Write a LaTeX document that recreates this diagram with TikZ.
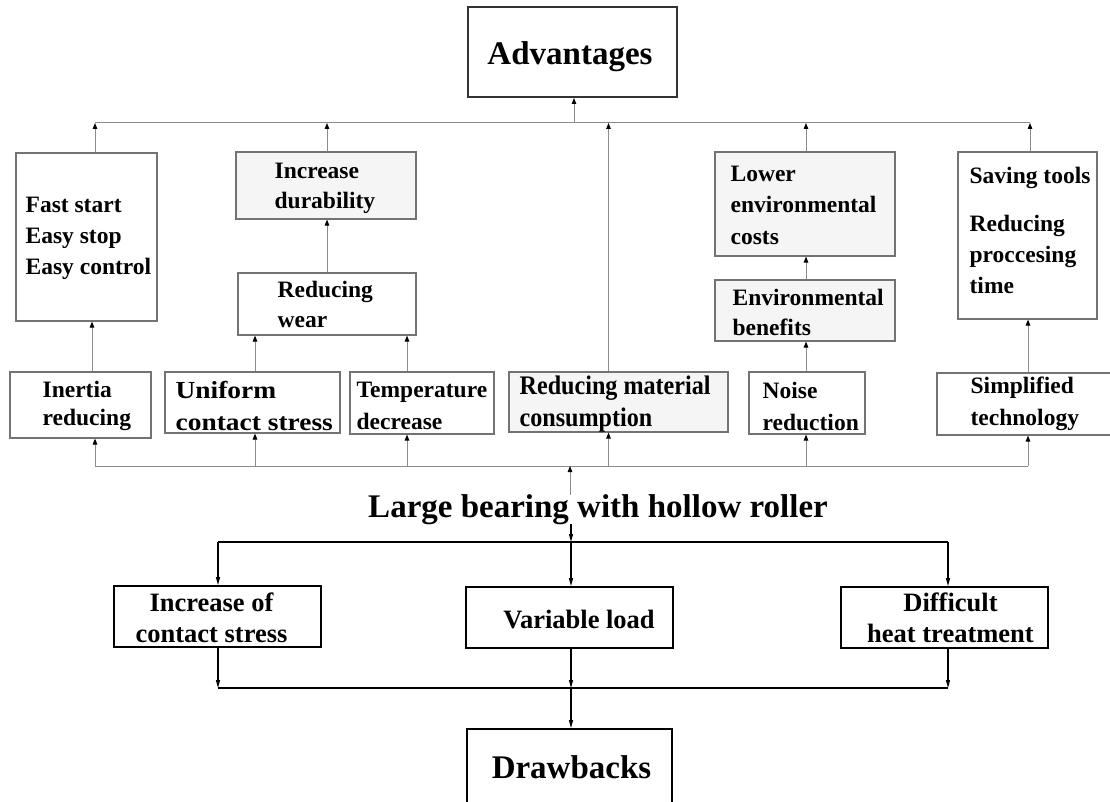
\documentclass[tikz,border=0pt]{standalone}
\usepackage{fontspec}
\setmainfont{Liberation Serif}
\newfontfamily\widefont[FakeStretch=1.12]{Liberation Serif}
\newfontfamily\narrowfont[FakeStretch=0.9]{Liberation Serif}
\usetikzlibrary{arrows.meta,calc}
\tikzset{
  tbox/.style={draw=black!55, line width=1.1pt, rectangle, inner sep=0pt},
  tboxf/.style={tbox, fill=black!4},
  bbox/.style={draw=black, line width=1.8pt, rectangle, inner sep=0pt},
  lab/.style={inner sep=0pt, align=left, anchor=west, font=\bfseries\fontsize{23.5}{31}\selectfont},
  blab/.style={inner sep=0pt, align=center, font=\bfseries\fontsize{26.5}{31}\selectfont},
  gline/.style={draw=black!45, line width=1pt},
  garr/.style={gline, -{Triangle[length=6pt,width=4.5pt,color=black]}},
  bline/.style={draw=black, line width=1.2pt},
  barr/.style={bline, -{Triangle[length=8pt,width=4pt]}},
}
\begin{document}
\begin{tikzpicture}[x=1pt,y=-1pt]
\useasboundingbox (0,0) rectangle (1110,802);
\fill[white] (0,0) rectangle (1110,802);

% ---------- top part ----------
\node[tbox, draw=black!80, line width=2pt, minimum width=209, minimum height=90] (adv) at (572.5,52) {};
\node[inner sep=0pt, anchor=base, font=\bfseries\fontsize{33}{36}\selectfont] (advT) at (570,65) {Advantages};

\node[tbox, minimum width=141, minimum height=168] (fast) at (86.5,237) {};
\node[lab, font=\bfseries\fontsize{23.5}{31}\selectfont] (fastT) at ([shift={(10,1)}]fast.west) {Fast start\\Easy stop\\Easy control};

\node[tboxf, minimum width=180, minimum height=67] (incdur) at (326,185.5) {};
\node[lab, font=\bfseries\fontsize{23.5}{30}\selectfont] (incdurT) at ([shift={(39,2.5)}]incdur.west) {Increase\\durability};

\node[tbox, minimum width=178, minimum height=62] (redwear) at (327,304) {};
\node[lab, font=\bfseries\fontsize{23.5}{30}\selectfont] (redwearT) at ([shift={(40,0)}]redwear.west) {Reducing\\wear};

\node[tboxf, minimum width=180, minimum height=104] (lowenv) at (805,204) {};
\node[lab, font=\bfseries\fontsize{23.5}{31.5}\selectfont] (lowenvT) at ([shift={(16,1)}]lowenv.west) {Lower\\environmental\\costs};

\node[tboxf, minimum width=180, minimum height=61] (envben) at (805,310.5) {};
\node[lab, font=\bfseries\fontsize{23.5}{30}\selectfont] (envbenT) at ([shift={(18,2)}]envben.west) {Environmental\\benefits};

\node[tbox, minimum width=139, minimum height=167] (saving) at (1027.5,235.5) {};
\node[lab, font=\bfseries\fontsize{23.5}{31}\selectfont] (savingT) at ([shift={(12,-5)}]saving.west) {Saving tools\\[17pt]Reducing\\proccesing\\time};

\node[tbox, minimum width=141, minimum height=66] (inertia) at (80.5,405) {};
\node[lab, font=\bfseries\fontsize{23.5}{28}\selectfont] (inertiaT) at ([shift={(33,1)}]inertia.west) {Inertia\\reducing};

\node[tbox, minimum width=175, minimum height=61] (uniform) at (252.5,402.5) {};
\node[lab, font=\widefont\bfseries\fontsize{24.5}{32}\selectfont] (uniformT) at ([shift={(11,3)}]uniform.west) {Uniform\\contact stress};

\node[tbox, minimum width=144, minimum height=62] (temp) at (422,403) {};
\node[lab, font=\bfseries\fontsize{23.5}{32}\selectfont] (tempT) at ([shift={(7,3)}]temp.west) {Temperature\\decrease};

\node[tboxf, minimum width=219, minimum height=60] (redmat) at (618.5,402) {};
\node[lab, font=\narrowfont\bfseries\fontsize{26.8}{32}\selectfont] (redmatT) at ([shift={(11,2)}]redmat.west) {Reducing material\\consumption};

\node[tbox, minimum width=116, minimum height=62] (noise) at (807,403) {};
\node[lab, font=\bfseries\fontsize{23.5}{32}\selectfont] (noiseT) at ([shift={(14,3)}]noise.west) {Noise\\reduction};

\node[tbox, minimum width=177, minimum height=62] (simpl) at (1025.5,404) {};
\node[lab, font=\bfseries\fontsize{23.5}{32}\selectfont] (simplT) at ([shift={(34,0)}]simpl.west) {Simplified\\technology};

% column coordinates
\coordinate (xa) at (95,0);
\coordinate (xa2) at (92,0);
\coordinate (xb) at (255,0);
\coordinate (xc) at (327,0);
\coordinate (xd) at (407,0);
\coordinate (xe) at (608.5,0);
\coordinate (xf) at (806,0);
\coordinate (xg) at (1028,0);
\coordinate (xh) at (574,0);
\coordinate (xt) at (570,0);

% top line
\coordinate (TL) at (95,123);
\coordinate (TR) at (1030,123);
\draw[gline] (TL) -- (TR);
\draw[garr] (xh |- TL) -- (xh |- adv.south);
\draw[garr] (xa |- fast.north) -- (xa |- TL);
\draw[garr] (xc |- incdur.north) -- (xc |- TL);
\draw[garr] (xe |- redmat.north) -- (xe |- TL);
\draw[garr] (xf |- lowenv.north) -- (xf |- TL);
\draw[garr] (TR |- saving.north) -- (TR);

% inner arrows
\draw[garr] (xa2 |- inertia.north) -- (xa2 |- fast.south);
\draw[garr] (xc |- redwear.north) -- (xc |- incdur.south);
\draw[garr] (xb |- uniform.north) -- (xb |- redwear.south);
\draw[garr] (xd |- temp.north) -- (xd |- redwear.south);
\draw[garr] (xf |- noise.north) -- (xf |- envben.south);
\draw[garr] (xf |- envben.north) -- (xf |- lowenv.south);
\draw[garr] (xg |- simpl.north) -- (xg |- saving.south);

% bottom line of top part
\coordinate (BL) at (95,466);
\coordinate (BR) at (1028,466);
\draw[gline] (BL) -- (BR);
\draw[garr] (BL) -- (xa |- inertia.south);
\draw[garr] (xb |- BL) -- (xb |- uniform.south);
\draw[garr] (xd |- BL) -- (xd |- temp.south);
\draw[garr] (xe |- BL) -- (xe |- redmat.south);
\draw[garr] (xf |- BL) -- (xf |- noise.south);
\draw[garr] (BR) -- (xg |- simpl.south);

% ---------- title ----------
\node[inner sep=0pt, anchor=base, font=\bfseries\fontsize{33}{36}\selectfont] (title) at (598,517) {Large bearing with hollow roller};
\draw[garr] ([yshift=-1pt]xt |- title.north) -- (xt |- BL);

% ---------- bottom part ----------
\node[bbox, minimum width=207, minimum height=61] (inc) at (217.5,616.5) {};
\node[blab] (incT) at ([shift={(-6,1)}]inc.center) {Increase of\\contact stress};

\node[bbox, minimum width=207, minimum height=61] (var) at (569.5,617.5) {};
\node[blab] (varT) at ([shift={(9.5,2.5)}]var.center) {Variable load};

\node[bbox, minimum width=207, minimum height=61] (diff) at (944.5,617.5) {};
\node[blab] (diffT) at ([shift={(6,0)}]diff.center) {Difficult\\heat treatment};

\node[bbox, minimum width=205, minimum height=86] (drawb) at (569.5,772) {};
\node[inner sep=0pt, anchor=base, font=\bfseries\fontsize{33}{36}\selectfont] (drawbT) at (571.5,778) {Drawbacks};

\coordinate (xl) at (218,0);
\coordinate (xm) at (571,0);
\coordinate (xr) at (948,0);
\coordinate (D1) at (218,542);
\coordinate (D2) at (948,542);
\coordinate (E1) at (218,688);
\coordinate (E2) at (948,688);

\draw[bline] (D1) -- (D2);
\draw[bline] (E1) -- (E2);
\draw[barr] (xm |- title.south) -- (xm |- D1);
\draw[barr] (D1) -- (xl |- inc.north);
\draw[barr] (xm |- D1) -- (xm |- var.north);
\draw[barr] (D2) -- (xr |- diff.north);
\draw[barr] (xl |- inc.south) -- (E1);
\draw[barr] (xm |- var.south) -- (xm |- E1);
\draw[barr] (xr |- diff.south) -- (E2);
\draw[barr] (xm |- E1) -- (xm |- drawb.north);
\end{tikzpicture}
\end{document}
